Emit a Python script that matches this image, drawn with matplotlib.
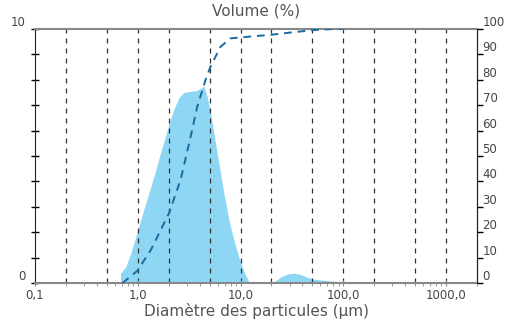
import numpy as np
import matplotlib
matplotlib.use("Agg")
import matplotlib.pyplot as plt

# distribution granulometrique (volume %, axe gauche 0-10)
diam_dens = [0.68, 0.68, 0.765, 0.855, 0.956, 1.07, 1.196, 1.34, 1.5, 1.67, 1.87, 2.01,
             2.25, 2.52, 2.81, 3.04, 3.66, 4.09, 4.4, 4.74, 5.11, 5.5, 6.16, 6.89,
             7.7, 8.6, 9.6, 10.8, 12.0, 12.5]
vol_dens = [0.0, 0.38, 0.64, 1.17, 1.82, 2.49, 3.14, 3.79, 4.45, 5.15, 5.8, 6.25,
            6.85, 7.3, 7.5, 7.53, 7.57, 7.66, 7.76, 7.33, 6.68, 5.89, 4.71, 3.53,
            2.48, 1.7, 1.04, 0.45, 0.06, 0.0]

# deuxieme petit pic
diam_dens2 = [20.3, 25.0, 29.0, 32.9, 38.0, 45.0, 51.5, 69.0, 97.6, 100.0]
vol_dens2 = [0.0, 0.25, 0.36, 0.39, 0.34, 0.22, 0.15, 0.1, 0.03, 0.0]

# courbe cumulee (axe droit 0-100)
diam_cum = [0.71, 0.99, 1.34, 2.01, 2.61, 3.27, 3.79, 4.57, 5.08, 6.38, 7.98, 10.0,
            19.5, 30.5, 51.5, 80.6, 100.0]
vol_cum = [0.0, 4.8, 13.0, 27.4, 40.6, 57.6, 69.4, 80.0, 85.0, 93.0, 96.3, 96.7,
           97.7, 98.6, 99.6, 100.0, 100.0]

grid_x = [0.2, 0.5, 1, 2, 5, 10, 20, 50, 100, 200, 500, 1000]
xticks = [0.1, 1, 10, 100, 1000]
xlabels = ["0,1", "1,0", "10,0", "100,0", "1000,0"]
yticks_right = list(range(0, 101, 10))

plt.rcParams['font.family'] = ['DejaVu Sans']

fig = plt.figure(figsize=(5.13, 3.23), dpi=100)
ax = fig.add_axes([35/513, 40/323, 442/513, 254/323])

ax.fill_between(diam_dens, vol_dens, color="#8dd7f5", lw=0)
ax.fill_between(diam_dens2, vol_dens2, color="#8dd7f5", lw=0)

for g in grid_x:
    ax.axvline(g, color="#333333", ls=(0, (4, 4)), lw=0.9, zorder=1)

ax.set_xscale("log")
ax.set_xlim(0.1, 2000)
ax.set_ylim(0, 10)
ax.set_xticks(xticks)
ax.set_xticklabels(xlabels, fontsize=8.5, color="#444444")
ax.set_yticks(range(0, 11))
ax.set_yticklabels(["0"] + [""] * 9 + ["10"], fontsize=8.5, color="#444444", va="bottom")
ax.tick_params(axis="y", direction="inout", length=6, width=1, pad=4)
ax.tick_params(axis="x", which="major", direction="inout", length=5, color="#888888", pad=2)
ax.tick_params(axis="x", which="minor", direction="out", length=2.5, color="#888888")

ax.spines["top"].set_color("#888888")
ax.spines["bottom"].set_color("#888888")
ax.spines["top"].set_linewidth(1.5)
ax.spines["bottom"].set_linewidth(1.5)
ax.spines["left"].set_color("#222222")
ax.spines["right"].set_color("#222222")

ax2 = ax.twinx()
ax2.plot(diam_cum, vol_cum, color="#1a6aa0", ls=(0, (4, 3)), lw=1.4)
ax2.set_ylim(0, 100)
ax2.set_yticks(yticks_right)
ax2.set_yticklabels([str(v) for v in yticks_right], fontsize=8.5, color="#444444", va="bottom")
ax2.tick_params(axis="y", direction="out", length=4, width=1, pad=0)
ax2.spines["right"].set_color("#222222")
ax2.spines["left"].set_visible(False)
ax2.spines["top"].set_visible(False)
ax2.spines["bottom"].set_visible(False)

fig.text(0.5, 1 - 11/323, "Volume (%)", ha="center", va="center", fontsize=11, color="#555555")
fig.text(0.5, 1 - 311/323, "Diamètre des particules (µm)", ha="center", va="center",
         fontsize=11, color="#555555")

fig.savefig("out.png", dpi=100)
